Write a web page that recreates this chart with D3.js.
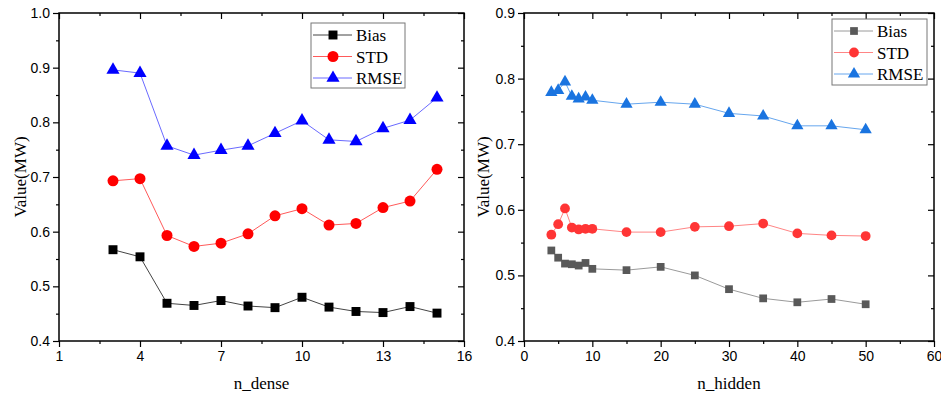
<!DOCTYPE html>
<html>
<head>
<meta charset="utf-8">
<script src="https://cdn.jsdelivr.net/npm/d3@7"></script>
<style>
  body { margin: 0; background: #fff; }
  svg { display: block; font-family: "Liberation Serif", "Times New Roman", serif; }
  .tick text { font-size: 14px; fill: #000; }
  .tick line { stroke: #000; stroke-width: 1.2; }
</style>
</head>
<body>
<svg id="chart" width="941" height="396"></svg>
<script>
// left panel: n_dense
var denseX = [3, 4, 5, 6, 7, 8, 9, 10, 11, 12, 13, 14, 15];
var denseBias = [0.567, 0.554, 0.469, 0.465, 0.474, 0.464, 0.461, 0.480, 0.462, 0.454, 0.452, 0.463, 0.451];
var denseStd = [0.693, 0.697, 0.593, 0.573, 0.579, 0.596, 0.629, 0.642, 0.612, 0.615, 0.644, 0.656, 0.714];
var denseRmse = [0.896, 0.890, 0.757, 0.740, 0.749, 0.757, 0.780, 0.803, 0.768, 0.765, 0.789, 0.804, 0.845];
var denseXTicks = [1, 4, 7, 10, 13, 16];
var denseYTicks = [0.4, 0.5, 0.6, 0.7, 0.8, 0.9, 1.0];

// right panel: n_hidden
var hiddenX = [4, 5, 6, 7, 8, 9, 10, 15, 20, 25, 30, 35, 40, 45, 50];
var hiddenBias = [0.538, 0.527, 0.518, 0.517, 0.515, 0.519, 0.510, 0.508, 0.513, 0.500, 0.479, 0.465, 0.459, 0.464, 0.456];
var hiddenStd = [0.562, 0.578, 0.602, 0.573, 0.570, 0.571, 0.571, 0.566, 0.566, 0.574, 0.575, 0.579, 0.564, 0.561, 0.560];
var hiddenRmse = [0.779, 0.782, 0.795, 0.773, 0.769, 0.772, 0.767, 0.761, 0.764, 0.761, 0.747, 0.743, 0.728, 0.728, 0.722];
var hiddenXTicks = [0, 10, 20, 30, 40, 50, 60];
var hiddenYTicks = [0.4, 0.5, 0.6, 0.7, 0.8, 0.9];

var seriesNames = ["Bias", "STD", "RMSE"];

var svg = d3.select("#chart");

function drawPanel(opt) {
  var x = d3.scaleLinear().domain(opt.xDomain).range([opt.left, opt.right]);
  var y = d3.scaleLinear().domain(opt.yDomain).range([opt.bottom, opt.top]);
  var g = svg.append("g");

  // minor ticks
  var xMinor = d3.range(opt.xDomain[0] + opt.xStep / 2, opt.xDomain[1], opt.xStep);
  var yMinor = d3.range(opt.yDomain[0] + 0.05, opt.yDomain[1] - 0.01, 0.1);
  g.append("g").attr("transform", "translate(0," + opt.bottom + ")")
    .call(d3.axisBottom(x).tickValues(xMinor).tickSize(3).tickSizeOuter(0).tickFormat(""));
  g.append("g").attr("transform", "translate(0," + opt.top + ")")
    .call(d3.axisBottom(x).tickValues(xMinor).tickSize(3).tickSizeOuter(0).tickFormat(""));
  g.append("g").attr("transform", "translate(" + opt.left + ",0)")
    .call(d3.axisLeft(y).tickValues(yMinor).tickSize(3).tickSizeOuter(0).tickFormat(""));
  g.append("g").attr("transform", "translate(" + opt.right + ",0)")
    .call(d3.axisLeft(y).tickValues(yMinor).tickSize(3).tickSizeOuter(0).tickFormat(""));

  // major ticks
  g.append("g").attr("transform", "translate(0," + opt.bottom + ")")
    .call(d3.axisBottom(x).tickValues(opt.xTicks).tickSize(6).tickSizeOuter(0).tickPadding(4).tickFormat(d3.format("d")));
  g.append("g").attr("transform", "translate(0," + opt.top + ")")
    .call(d3.axisBottom(x).tickValues(opt.xTicks).tickSize(6).tickSizeOuter(0).tickFormat(""));
  g.append("g").attr("transform", "translate(" + opt.left + ",0)")
    .call(d3.axisLeft(y).tickValues(opt.yTicks).tickSize(6).tickSizeOuter(0).tickPadding(3).tickFormat(d3.format(".1f")));
  g.append("g").attr("transform", "translate(" + opt.right + ",0)")
    .call(d3.axisLeft(y).tickValues(opt.yTicks).tickSize(6).tickSizeOuter(0).tickFormat(""));

  g.selectAll(".domain").remove();

  // frame
  g.append("rect")
    .attr("x", opt.left).attr("y", opt.top)
    .attr("width", opt.right - opt.left).attr("height", opt.bottom - opt.top)
    .attr("fill", "none").attr("stroke", "#000").attr("stroke-width", 1.5);

  var line = d3.line().x(function(d) { return x(d[0]); }).y(function(d) { return y(d[1]); });

  opt.series.forEach(function(s) {
    var pts = opt.xs.map(function(v, i) { return [v, s.values[i]]; });
    g.append("path").datum(pts)
      .attr("fill", "none").attr("stroke", s.lineColor).attr("stroke-width", 1)
      .attr("d", line);
    g.selectAll(null).data(pts).enter().append("path")
      .attr("transform", function(d) { return "translate(" + x(d[0]) + "," + y(d[1]) + ")"; })
      .attr("d", d3.symbol().type(s.symbol).size(s.size))
      .attr("fill", s.color);
  });

  // legend
  var lg = g.append("g");
  lg.append("rect")
    .attr("x", opt.legend.x).attr("y", opt.legend.y)
    .attr("width", opt.legend.w).attr("height", opt.legend.h)
    .attr("fill", "#fff").attr("stroke", "#777").attr("stroke-width", 1);
  opt.series.forEach(function(s, i) {
    var ly = opt.legend.y + 12 + i * 21.5;
    var lx = opt.legend.x + 2;
    lg.append("line").attr("x1", lx).attr("x2", lx + 39).attr("y1", ly).attr("y2", ly)
      .attr("stroke", s.lineColor).attr("stroke-width", 1);
    lg.append("path").attr("transform", "translate(" + (lx + 20) + "," + ly + ")")
      .attr("d", d3.symbol().type(s.symbol).size(s.size)).attr("fill", s.color);
    lg.append("text").attr("x", lx + 43).attr("y", ly + 6)
      .attr("font-size", 17).text(seriesNames[i]);
  });

  // axis titles
  g.append("text")
    .attr("x", (opt.left + opt.right) / 2).attr("y", 389)
    .attr("text-anchor", "middle").attr("font-size", 17).text(opt.xTitle);
  g.append("text")
    .attr("transform", "translate(" + opt.yTitleX + "," + ((opt.top + opt.bottom) / 2) + ") rotate(-90)")
    .attr("text-anchor", "middle").attr("font-size", 17).text("Value(MW)");
}

drawPanel({
  left: 59, right: 464, top: 13, bottom: 341,
  xDomain: [1, 16], xStep: 3, yDomain: [0.4, 1.0],
  xTicks: denseXTicks, yTicks: denseYTicks,
  xs: denseX, xTitle: "n_dense", yTitleX: 26,
  legend: { x: 311, y: 23, w: 94, h: 65 },
  series: [
    { values: denseBias, color: "#000", lineColor: "#444", symbol: d3.symbolSquare, size: 80 },
    { values: denseStd, color: "#ff0000", lineColor: "#ff5a5a", symbol: d3.symbolCircle, size: 95 },
    { values: denseRmse, color: "#0000ff", lineColor: "#6a6aff", symbol: d3.symbolTriangle, size: 75 }
  ]
});

drawPanel({
  left: 524, right: 934, top: 13, bottom: 341,
  xDomain: [0, 60], xStep: 10, yDomain: [0.4, 0.9],
  xTicks: hiddenXTicks, yTicks: hiddenYTicks,
  xs: hiddenX, xTitle: "n_hidden", yTitleX: 489,
  legend: { x: 832, y: 19, w: 95, h: 66 },
  series: [
    { values: hiddenBias, color: "#595959", lineColor: "#9a9a9a", symbol: d3.symbolSquare, size: 60 },
    { values: hiddenStd, color: "#ff3535", lineColor: "#ff8585", symbol: d3.symbolCircle, size: 75 },
    { values: hiddenRmse, color: "#1a74e0", lineColor: "#66a6ee", symbol: d3.symbolTriangle, size: 65 }
  ]
});
</script>
</body>
</html>
